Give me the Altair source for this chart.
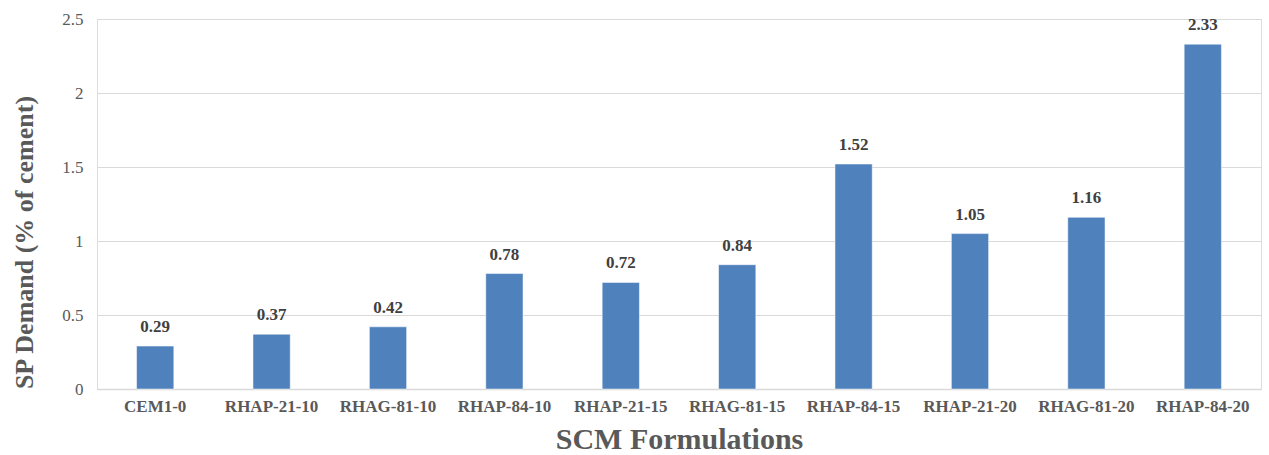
import altair as alt
import pandas as pd

categories = ["CEM1-0", "RHAP-21-10", "RHAG-81-10", "RHAP-84-10", "RHAP-21-15",
              "RHAG-81-15", "RHAP-84-15", "RHAP-21-20", "RHAG-81-20", "RHAP-84-20"]
values = [0.29, 0.37, 0.42, 0.78, 0.72, 0.84, 1.52, 1.05, 1.16, 2.33]

df = pd.DataFrame({"cat": categories, "val": values})
FONT = "Liberation Serif"

base = alt.Chart(df).encode(
    x=alt.X("cat:N", sort=categories, title="SCM Formulations",
            scale=alt.Scale(paddingInner=0.68, paddingOuter=0.34),
            axis=alt.Axis(labelAngle=0, labelFont=FONT, labelFontSize=17, labelFontWeight="bold",
                          labelColor="#595959", labelPadding=9, ticks=False,
                          domainColor="#d9d9d9", domainWidth=1.5,
                          titleFont=FONT, titleFontSize=30, titleFontWeight="bold",
                          titleColor="#595959", titlePadding=10)),
    y=alt.Y("val:Q", title="SP Demand (% of cement)",
            scale=alt.Scale(domain=[0, 2.5], nice=False),
            axis=alt.Axis(values=[0, 0.5, 1, 1.5, 2, 2.5], format="~g",
                          labelFont=FONT, labelFontSize=17, labelColor="#595959",
                          labelPadding=14, ticks=False, domain=False,
                          gridColor="#d9d9d9", gridWidth=1.2,
                          titleFont=FONT, titleFontSize=26, titleFontWeight="bold",
                          titleColor="#595959", titlePadding=24, titleY=223)),
)

bars = base.mark_bar(color="#4f81bd", stroke="#ffffff", strokeWidth=0.5)
labels = base.mark_text(dy=-19, font=FONT, fontSize=17, fontWeight="bold", color="#404040").encode(
    text=alt.Text("val:Q", format=".2f"))

chart = (bars + labels).properties(
    width=1164, height=370,
    autosize=alt.AutoSizeParams(type="none"),
    padding={"left": 97, "top": 19, "right": 8, "bottom": 66},
).configure_view(stroke=None).configure(background="white")

chart.save("out.html", embed_options={"renderer": "svg", "actions": False})
